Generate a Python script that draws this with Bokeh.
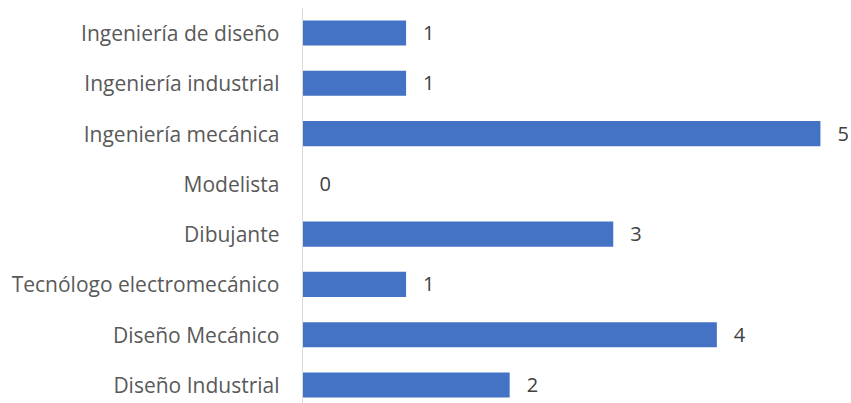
from bokeh.plotting import figure
from bokeh.models import FixedTicker, ColumnDataSource, LabelSet
from bokeh.core.properties import value
from bokeh.embed import file_html
from bokeh.resources import INLINE

categories = ["Diseño Industrial", "Diseño Mecánico", "Tecnólogo electromecánico",
              "Dibujante", "Modelista", "Ingeniería mecánica",
              "Ingeniería industrial", "Ingeniería de diseño"]
values = [2, 4, 1, 3, 0, 5, 1, 1]

pos = list(range(len(categories)))
src = ColumnDataSource(dict(y=pos, v=values, lbl=[str(v) for v in values]))

p = figure(width=851, height=403, output_backend="svg", toolbar_location=None,
           x_range=(0, 5.3), y_range=(-0.368, 7.487),
           min_border_left=302, min_border_right=0, min_border_top=8, min_border_bottom=0)

p.hbar(y="y", right="v", left=0, height=0.5, source=src, color="#4472C4", line_color=None)

labels = LabelSet(x="v", y="y", text="lbl", source=src, x_offset=17, y_offset=0,
                  text_baseline="middle", text_align="left", text_font_size=value("20px"),
                  text_color="#404040", text_font=value("Open Sans"))
p.add_layout(labels)

p.xaxis.visible = False
p.xgrid.visible = False
p.ygrid.visible = False
p.outline_line_color = None

p.yaxis.ticker = FixedTicker(ticks=pos)
p.yaxis.major_label_overrides = {i: c for i, c in enumerate(categories)}
p.yaxis.major_tick_line_color = None
p.yaxis.minor_tick_line_color = None
p.yaxis.axis_line_color = "#D9D9D9"
p.yaxis.axis_line_width = 1
p.yaxis.major_label_text_font = "Open Sans"
p.yaxis.major_label_text_font_size = "21px"
p.yaxis.major_label_text_color = "#595959"
p.yaxis.major_label_standoff = 17

open("out.html", "w").write(file_html(p, INLINE))
